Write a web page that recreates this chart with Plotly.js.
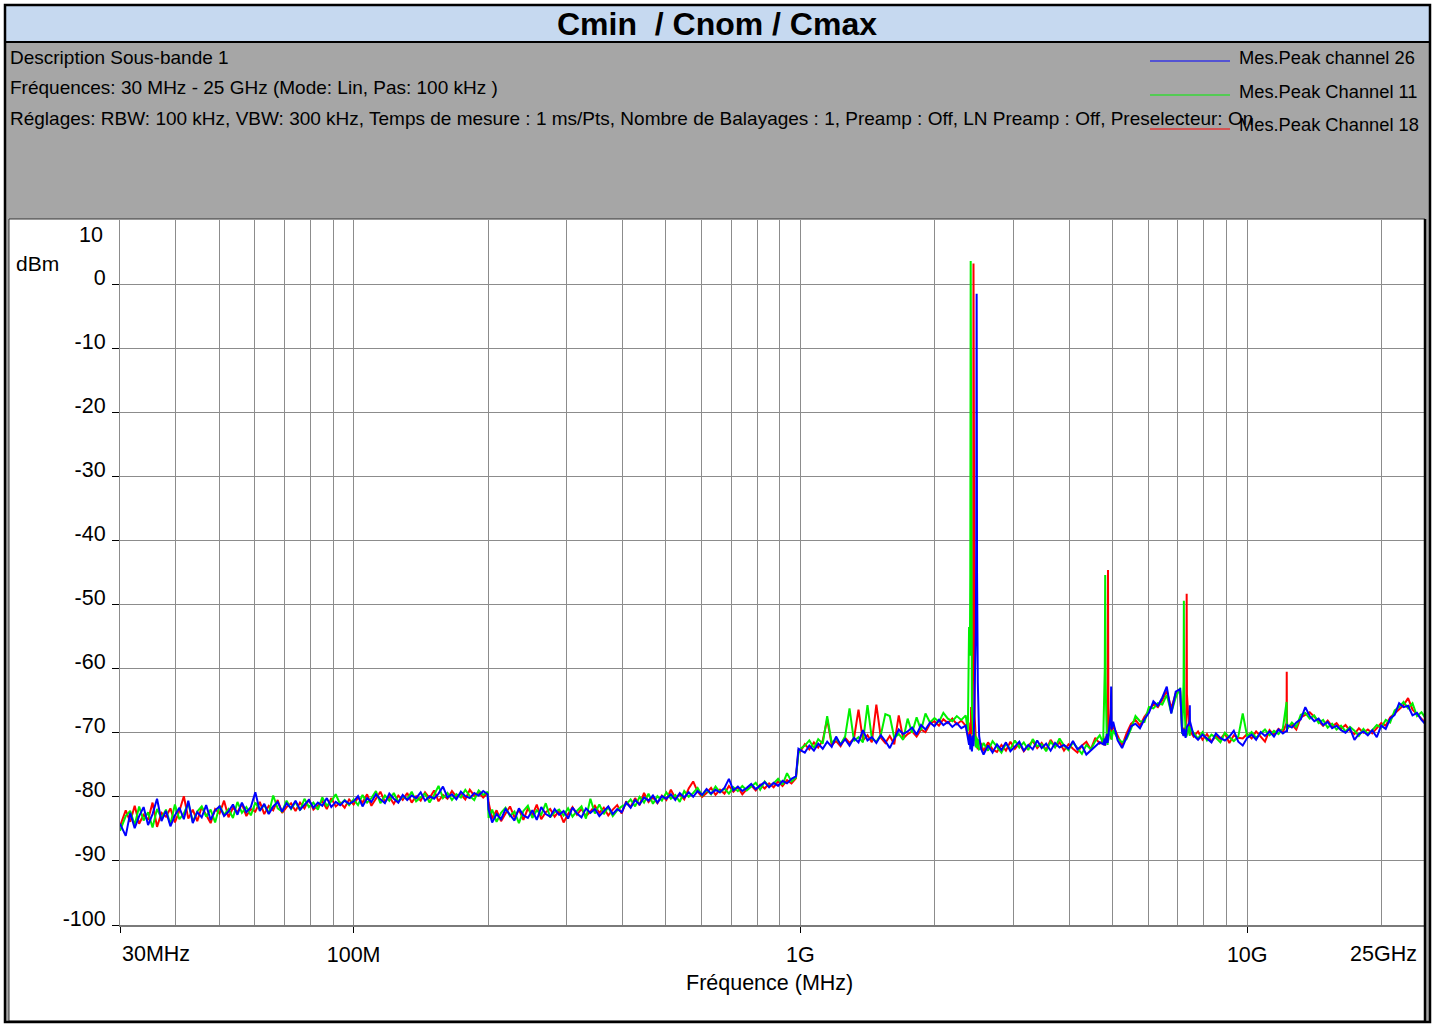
<!DOCTYPE html>
<html><head><meta charset="utf-8">
<script src="https://cdn.plot.ly/plotly-3.0.1.min.js"></script>
<style>html,body{margin:0;padding:0;background:#fff;}#chart{width:1442px;height:1025px;}</style>
</head><body><div id="chart"></div><script>
// ---- data (frequency in MHz, level in dBm) ----
const freqA=[30,30.9,31.62,32.36,33.11,33.88,34.67,35.48,36.31,37.15,38.02,38.9,39.81,40.74,41.69,42.66,43.65,44.67,45.71,46.77,47.86,48.98,50.12,51.29,52.48,53.7,54.95,56.23,57.54,58.88,60.26,61.66,63.1,64.57,66.07,67.61,69.18,70.79,72.44,74.13,75.86,77.62,79.43,81.28,83.18,85.11,87.1,89.13,91.2,93.33,95.5,97.72];
const redA=[-84.6,-82.1,-83.9,-81.4,-84.2,-82.8,-83.6,-80.9,-84.7,-82.5,-83.1,-81.8,-84.0,-82.2,-79.9,-83.4,-82.0,-83.8,-81.6,-82.9,-84.1,-81.9,-82.6,-80.6,-83.2,-81.7,-82.4,-81.1,-83.0,-81.9,-82.3,-80.8,-82.7,-81.4,-82.1,-80.5,-82.5,-81.6,-81.0,-82.2,-80.9,-81.8,-80.4,-82.0,-81.3,-80.7,-81.9,-80.2,-81.5,-80.9,-81.7,-80.4];
const greenA=[-85.3,-83.0,-82.2,-84.4,-81.5,-83.7,-82.4,-84.8,-81.9,-83.3,-82.0,-84.3,-81.2,-83.5,-82.6,-81.0,-83.9,-82.3,-81.5,-83.1,-82.0,-84.0,-81.4,-82.8,-81.9,-83.3,-80.8,-82.5,-81.6,-82.9,-80.9,-82.0,-81.3,-82.6,-79.8,-81.8,-82.3,-80.6,-81.9,-80.8,-82.1,-80.3,-81.6,-80.9,-82.0,-80.1,-81.4,-80.7,-79.6,-81.2,-80.5,-81.3];
const blueA=[-84.2,-86.1,-82.5,-84.9,-83.0,-81.6,-84.4,-82.7,-80.3,-83.8,-82.2,-84.6,-82.9,-81.7,-83.5,-80.6,-84.1,-82.4,-83.2,-81.3,-83.6,-82.1,-81.5,-83.0,-82.3,-81.2,-82.8,-80.9,-82.4,-81.6,-79.3,-82.2,-81.1,-82.7,-81.5,-80.8,-82.3,-81.0,-81.8,-80.6,-82.0,-81.2,-80.5,-81.7,-80.9,-81.4,-80.2,-81.6,-80.8,-81.3,-80.6,-81.1];

const freqB=[100,102.3,104.7,107.2,109.6,112.2,114.8,117.5,120.2,123,125.9,128.8,131.8,134.9,138,141.3,144.5,147.9,151.4,154.9,158.5,162.2,166,169.8,173.8,177.8,182,186.2,190.5,195,199.5];
const redB=[-81.2,-80.1,-80.9,-79.6,-81.4,-80.3,-79.2,-80.8,-80.0,-81.1,-79.8,-80.5,-79.4,-80.9,-79.9,-80.6,-79.3,-80.2,-79.0,-80.7,-79.7,-80.3,-79.1,-80.0,-79.6,-80.4,-78.9,-79.8,-79.3,-80.1,-79.4];
const greenB=[-80.4,-81.3,-79.7,-80.9,-80.2,-79.1,-81.0,-79.8,-80.6,-79.4,-80.8,-79.9,-80.4,-79.2,-80.7,-80.0,-79.5,-80.9,-79.7,-78.3,-80.2,-79.4,-80.5,-79.6,-80.1,-78.9,-79.9,-80.5,-79.0,-79.7,-79.2];
const blueB=[-80.7,-79.9,-81.5,-80.2,-80.8,-79.6,-80.4,-81.0,-79.5,-80.3,-80.9,-79.7,-80.5,-79.8,-80.2,-79.3,-80.6,-79.9,-80.3,-79.5,-78.4,-80.1,-79.6,-80.4,-79.2,-79.9,-80.2,-79.4,-79.8,-79.1,-79.6];

const freqC=[200.5,204.2,208.9,213.8,218.8,223.9,229.1,234.4,239.9,245.5,251.2,257,263,269.2,275.4,281.8,288.4,295.1,302,309,316.2,323.6,331.1,338.8,346.7,354.8,363.1,371.5,380.2,389,398.1,407.4,416.9,426.6,436.5,446.7,457.1,467.7,478.6,489.8,501.2,512.9,524.8,537,549.5,562.3,575.4,588.8,602.6,616.6,631,645.7,660.7,676.1,691.8,707.9,724.4,741.3,758.6,776.2,794.3,812.8,831.8,851.1,871,891.3,912,933.3,955,977.2,990];
const redC=[-80.9,-83.4,-82.1,-83.8,-82.6,-81.5,-83.2,-82.0,-83.6,-81.8,
-82.9,-81.2,-83.5,-82.4,-81.9,-83.1,-82.2,-84.0,-82.7,-81.6,
-82.8,-81.9,-83.0,-82.3,-81.4,-82.5,-81.7,-82.9,-82.0,-81.3,
-82.6,-80.7,-81.6,-80.2,-81.3,-79.4,-80.8,-80.1,-81.0,-79.8,
-80.5,-78.9,-80.2,-79.6,-80.4,-78.7,-77.6,-79.2,-80.0,-79.4,
-78.6,-79.7,-78.9,-79.5,-78.3,-79.2,-78.5,-79.6,-78.8,-78.2,
-79.0,-78.1,-78.7,-77.9,-78.5,-77.6,-78.3,-77.4,-77.9,-77.1,
-72.8];
const greenC=[-83.3,-82.0,-83.9,-82.5,-81.7,-83.0,-82.3,-84.1,-82.2,-81.4,
-83.3,-82.1,-82.8,-81.0,-83.2,-82.4,-82.0,-82.9,-81.8,-83.1,
-82.2,-81.5,-83.4,-80.3,-82.6,-81.2,-82.7,-81.6,-83.0,-82.1,
-81.5,-81.2,-80.4,-81.5,-80.0,-80.9,-79.5,-81.1,-79.9,-80.6,
-79.3,-80.3,-79.7,-80.8,-79.1,-80.0,-79.4,-78.6,-79.8,-78.9,
-79.6,-78.4,-79.3,-78.7,-79.5,-78.5,-79.1,-78.3,-79.0,-78.4,
-77.8,-78.9,-77.6,-78.4,-77.9,-77.2,-78.1,-76.3,-77.6,-77.0,
-73.2];
const blueC=[-82.0,-84.0,-82.7,-83.5,-81.9,-82.8,-83.7,-81.8,-82.9,-83.3,
-82.1,-83.6,-81.6,-82.7,-83.1,-81.9,-82.8,-82.2,-83.4,-81.7,
-82.6,-83.2,-81.8,-82.5,-81.9,-83.0,-82.2,-81.5,-82.7,-81.9,
-82.4,-80.9,-81.7,-80.5,-81.2,-80.1,-80.6,-79.8,-80.9,-79.9,
-80.3,-79.6,-80.5,-79.4,-80.1,-79.3,-80.0,-79.1,-79.7,-78.8,
-79.5,-78.9,-79.3,-78.6,-77.2,-79.0,-78.4,-79.1,-78.6,-78.0,
-78.8,-78.2,-77.7,-78.5,-77.8,-78.3,-77.5,-77.9,-77.2,-76.8,
-72.5];

const freqD=[1000,1023,1047,1072,1096,1122,1148,1175,1202,1230,1259,1288,1318,1349,1380,1413,1445,1479,1514,1549,1585,1622,1660,1698,1738,1778,1820,1862,1905,1950,1995,2042,2089,2138,2188,2239,2291,2344];
const redD=[-72.9,-71.8,-72.6,-71.5,-72.3,-71.2,-67.9,-71.9,-71.3,-72.1,-70.8,-71.6,-70.9,-66.4,-71.2,-70.4,-71.5,-65.6,-70.8,-71.6,-70.5,-71.8,-67.3,-70.9,-70.2,-69.8,-70.6,-69.5,-69.9,-68.6,-68.2,-68.9,-67.9,-68.5,-67.8,-68.7,-68.1,-68.9];
const greenD=[-72.5,-72.0,-71.2,-72.4,-71.0,-71.7,-67.4,-71.6,-70.9,-71.8,-70.6,-66.2,-71.3,-70.7,-71.5,-65.7,-70.9,-71.4,-70.3,-67.1,-67.4,-70.8,-70.2,-71.1,-67.8,-70.0,-67.6,-69.6,-67.0,-68.4,-67.7,-68.3,-66.9,-67.8,-68.2,-67.4,-68.0,-67.3];
const blueD=[-72.7,-73.1,-72.0,-72.8,-71.7,-72.5,-71.4,-72.2,-70.6,-71.9,-71.0,-72.0,-70.8,-71.5,-69.6,-71.2,-70.7,-71.6,-70.4,-71.3,-72.4,-71.0,-69.5,-70.2,-69.8,-69.2,-70.3,-68.8,-69.5,-68.4,-69.0,-68.0,-68.8,-68.3,-69.1,-68.5,-69.3,-68.9];

const freqE=[2370,2385,2395,2400,2405,2410,2420,2435,2440,2445,2455,2470,2475,2480,2485,2495,2512];
const redE=[-70.4,-71.2,-69.6,-68.4,-70.9,-66.0,-70.2,-55.2,3.2,-52.0,-67.5,-71.1,-72.0,-70.8,-71.9,-72.6,-71.4];
const greenE=[-69.8,-53.5,-58.0,-45.0,3.6,-50.0,-66.5,-69.8,-71.2,-68.9,-70.5,-72.3,-70.6,-71.8,-72.4,-71.0,-72.6];
const blueE=[-70.8,-71.9,-70.2,-72.6,-70.5,-71.7,-72.9,-70.4,-72.1,-69.9,-62.8,-53.7,-40.0,-1.5,-45.0,-62.2,-70.5];

const freqF=[2540,2570,2630,2692,2754,2818,2884,2951,3020,3090,3162,3236,3311,3388,3467,3548,3631,3715,3802,3890,3981,4074,4169,4266,4365,4467,4571,4677];
const redF=[-71.8,-72.9,-71.5,-72.6,-73.0,-71.9,-72.8,-71.4,-72.5,-71.7,-72.9,-72.0,-71.3,-72.4,-71.6,-72.7,-71.1,-72.2,-71.5,-72.8,-71.8,-72.5,-73.1,-72.0,-71.4,-72.6,-70.8,-71.7];
const greenF=[-72.4,-71.6,-72.8,-71.3,-72.2,-73.1,-71.7,-72.6,-71.2,-72.3,-71.5,-72.7,-71.0,-72.1,-71.8,-72.9,-71.4,-72.3,-70.9,-72.0,-72.7,-71.5,-72.4,-73.3,-71.9,-72.6,-71.3,-70.4];
const blueF=[-72.6,-73.4,-72.0,-73.1,-71.8,-72.7,-71.5,-72.9,-72.2,-71.4,-72.8,-71.9,-72.6,-71.2,-72.4,-71.7,-72.8,-71.6,-72.3,-71.9,-72.5,-71.3,-72.6,-72.0,-73.4,-72.8,-72.1,-71.5];

const freqG=[4760,4800,4810,4820,4850,4870,4880,4890,4920,4950,4960,4970];
const redG=[-71.2,-72.0,-71.0,-70.6,-71.5,-68.0,-44.6,-66.0,-70.3,-69.0,-71.0,-70.2];
const greenG=[-71.6,-60.0,-45.4,-62.0,-70.8,-71.9,-70.6,-71.2,-69.4,-70.5,-69.8,-71.1];
const blueG=[-71.8,-70.9,-72.0,-71.4,-70.2,-71.6,-70.9,-70.5,-68.5,-67.0,-62.8,-69.5];

const freqH=[5012,5129,5248,5370,5495,5623,5754,5888,6026,6166,6310,6457,6607,6761,6918,7079];
const redH=[-68.9,-70.4,-72.0,-70.1,-68.6,-68.0,-68.9,-67.5,-66.6,-65.5,-66.0,-64.9,-63.5,-66.2,-63.9,-63.4];
const greenH=[-69.6,-70.9,-71.5,-71.0,-69.4,-67.4,-68.2,-68.3,-66.0,-66.2,-65.4,-65.6,-64.1,-66.9,-64.5,-63.0];
const blueH=[-68.3,-71.2,-72.4,-70.6,-69.0,-68.6,-69.3,-67.9,-66.9,-65.1,-65.8,-64.5,-62.8,-67.0,-63.6,-63.2];

const freqI=[7150,7205,7215,7225,7280,7310,7320,7330,7413,7435,7440,7445];
const redI=[-69.6,-70.4,-69.8,-69.2,-70.1,-66.0,-48.3,-64.0,-69.5,-70.3,-68.8,-69.7];
const greenI=[-70.2,-62.0,-49.4,-65.0,-69.4,-70.6,-69.9,-70.3,-69.0,-69.8,-70.5,-69.3];
const blueI=[-69.9,-70.5,-70.0,-69.4,-70.8,-69.6,-70.2,-69.1,-68.5,-68.0,-65.7,-68.2];

const freqJ=[7586,7762,7943,8128,8318,8511,8710,8913,9120,9333,9550,9772];
const redJ=[-70.6,-69.8,-71.1,-70.2,-71.4,-70.5,-71.0,-70.1,-71.6,-70.4,-70.8,-70.9];
const greenJ=[-70.1,-70.9,-69.9,-71.2,-70.3,-70.8,-71.5,-70.0,-70.7,-71.3,-70.6,-67.0];
const blueJ=[-70.4,-71.1,-70.3,-70.9,-71.5,-70.1,-70.8,-71.2,-70.6,-69.7,-71.4,-72.0];

const freqK=[10000,10230,10470,10720,10960,11220,11480,11750,12020,12250,12260,12270,12300,12590,12880,13180,13490,13800,14130,14450,14790,15140,15490,15850,16220,16600,16980,17380,17780,18200,18620,19050,19500,19950,20420,20890,21380,21880,22390,22910,23440,23990,24550,25000];
const redK=[-70.2,-70.9,-69.8,-70.6,-71.4,-69.6,-70.3,-69.4,-69.9,-68.5,-60.5,-68.0,-69.2,-68.7,-69.5,-67.6,-67.2,-66.8,-67.5,-68.2,-68.9,-68.1,-69.0,-68.5,-69.4,-68.8,-69.7,-70.2,-69.3,-70.0,-69.5,-70.1,-69.2,-68.5,-68.9,-67.6,-67.0,-66.3,-65.7,-64.6,-66.4,-67.1,-67.9,-68.4];
const greenK=[-70.6,-69.9,-70.8,-70.1,-69.5,-70.4,-69.7,-70.2,-69.3,-65.2,-69.6,-68.9,-69.4,-68.4,-69.1,-67.2,-66.9,-67.8,-67.3,-68.5,-68.0,-69.2,-68.6,-69.5,-68.9,-69.8,-69.1,-69.7,-70.5,-69.4,-70.2,-69.6,-68.8,-69.2,-68.0,-68.4,-66.5,-66.0,-65.2,-66.2,-65.4,-67.4,-66.8,-67.6];
const blueK=[-70.8,-70.3,-71.1,-69.9,-70.5,-69.8,-70.6,-69.5,-70.1,-69.7,-69.3,-69.9,-68.8,-69.2,-68.4,-67.9,-66.0,-67.4,-68.2,-67.8,-68.8,-68.3,-69.3,-68.9,-69.6,-70.0,-69.3,-71.1,-70.2,-69.8,-70.4,-69.6,-70.7,-68.9,-69.4,-67.8,-67.2,-65.4,-66.0,-65.8,-67.3,-66.9,-68.0,-68.6];

// ---- tick / label texts ----
const yTicks=[0,-10,-20,-30,-40,-50,-60,-70,-80,-90,-100];
const xMajor=[30,100,1000,10000,25000];
const xMajorText=['','100M','1G','10G',''];
const xMinor=[40,50,60,70,80,90,200,300,400,500,600,700,800,900,2000,3000,4000,5000,6000,7000,8000,9000,20000];
const seriesNames=['Mes.Peak channel 26','Mes.Peak Channel 11','Mes.Peak Channel 18'];
const headerLines=['Description Sous-bande 1','Fréquences: 30 MHz - 25 GHz (Mode: Lin, Pas: 100 kHz )','Réglages: RBW: 100 kHz, VBW: 300 kHz, Temps de mesure : 1 ms/Pts, Nombre de Balayages : 1, Preamp : Off, LN Preamp : Off, Preselecteur: On'];

const cat=(...a)=>[].concat(...a);
const freq=cat(freqA,freqB,freqC,freqD,freqE,freqF,freqG,freqH,freqI,freqJ,freqK);
const red=cat(redA,redB,redC,redD,redE,redF,redG,redH,redI,redJ,redK);
const green=cat(greenA,greenB,greenC,greenD,greenE,greenF,greenG,greenH,greenI,greenJ,greenK);
const blue=cat(blueA,blueB,blueC,blueD,blueE,blueF,blueG,blueH,blueI,blueJ,blueK);

// ---- geometry helpers (pixel -> paper) ----
const L=120,R=1425,T=220,B=925;
const px=x=>(x-L)/(R-L), py=y=>(B-y)/(B-T);
const FONT='"Liberation Sans", Arial, sans-serif';
const GRID='#8c8c8c';
const COL={blue:'#0000ff',green:'#00f000',red:'#ff0000'};

const traces=[
 {x:freq,y:red,type:'scatter',mode:'lines',line:{color:COL.red,width:2},name:seriesNames[2]},
 {x:freq,y:green,type:'scatter',mode:'lines',line:{color:COL.green,width:2},name:seriesNames[1]},
 {x:freq,y:blue,type:'scatter',mode:'lines',line:{color:COL.blue,width:2},name:seriesNames[0]}
];

const shapes=[
 {type:'rect',xref:'paper',yref:'paper',x0:px(5),x1:px(1430),y0:py(1022),y1:py(42),fillcolor:'#a6a6a6',line:{width:0},layer:'below'},
 {type:'rect',xref:'paper',yref:'paper',x0:px(5),x1:px(1430),y0:py(42),y1:py(5),fillcolor:'#c6d9f0',line:{width:0},layer:'below'},
 {type:'rect',xref:'paper',yref:'paper',x0:px(9),x1:px(1425),y0:py(1021),y1:py(219),fillcolor:'#ffffff',line:{color:'#333333',width:1},layer:'below'},
 {type:'line',xref:'paper',yref:'paper',x0:px(5),x1:px(1430),y0:py(42),y1:py(42),line:{color:'#000',width:2},layer:'above'},
 {type:'line',xref:'paper',yref:'paper',x0:px(1425),x1:px(1425),y0:py(219),y1:py(1021),line:{color:'#000',width:2.5},layer:'above'},
 {type:'rect',xref:'paper',yref:'paper',x0:px(5),x1:px(1430),y0:py(1022),y1:py(5),line:{color:'#000',width:2.5},fillcolor:'rgba(0,0,0,0)',layer:'above'}
];
const legY=[61,95,129], legC=[COL.blue,COL.green,COL.red];
legY.forEach((y,i)=>shapes.push({type:'line',xref:'paper',yref:'paper',x0:px(1150),x1:px(1230),y0:py(y),y1:py(y),line:{color:legC[i],width:1.2},layer:'above'}));

const ann=[];
const hdrY=[58,88,118];
headerLines.forEach((t,i)=>ann.push({text:t,xref:'paper',yref:'paper',x:px(8),y:py(hdrY[i]),xanchor:'left',yanchor:'middle',showarrow:false,font:{family:FONT,size:19,color:'#000'}}));
const legTY=[57,91,125];
seriesNames.forEach((t,i)=>ann.push({text:t,xref:'paper',yref:'paper',x:px(1237),y:py(legTY[i]),xanchor:'left',yanchor:'middle',showarrow:false,font:{family:FONT,size:18.3,color:'#000'}}));
ann.push({text:'dBm',xref:'paper',yref:'paper',x:px(37),y:py(263),xanchor:'center',yanchor:'middle',showarrow:false,font:{family:FONT,size:21,color:'#000'}});
ann.push({text:'10',xref:'paper',yref:'paper',x:px(105),y:py(235),xanchor:'right',yanchor:'middle',showarrow:false,font:{family:FONT,size:21.5,color:'#000'}});
ann.push({text:'30MHz',xref:'paper',yref:'paper',x:px(120),y:py(954),xanchor:'left',yanchor:'middle',showarrow:false,font:{family:FONT,size:21.5,color:'#000'}});
ann.push({text:'25GHz',xref:'paper',yref:'paper',x:px(1419),y:py(954),xanchor:'right',yanchor:'middle',showarrow:false,font:{family:FONT,size:21.5,color:'#000'}});
ann.push({text:'Fréquence (MHz)',xref:'paper',yref:'paper',x:px(769),y:py(983),xanchor:'center',yanchor:'middle',showarrow:false,font:{family:FONT,size:21.5,color:'#000'}});

const layout={
 width:1442,height:1025,
 margin:{l:L,r:1442-R,t:T,b:1025-B,pad:0},
 paper_bgcolor:'#ffffff',plot_bgcolor:'#ffffff',
 showlegend:false,hovermode:false,
 title:{text:'Cmin\u00a0 / Cnom / Cmax',font:{family:FONT,size:32,color:'#000',weight:'bold'},xref:'container',yref:'container',x:717/1442,y:1-24/1025,xanchor:'center',yanchor:'middle'},
 xaxis:{type:'log',range:[Math.log10(30),Math.log10(25000)],tickmode:'array',tickvals:xMajor,ticktext:xMajorText,
   ticks:'outside',ticklen:6,tickcolor:'#000',tickwidth:1,showgrid:true,gridcolor:GRID,gridwidth:1,
   minor:{tickmode:'array',tickvals:xMinor,showgrid:true,gridcolor:GRID,gridwidth:1,ticks:''},
   showline:true,linecolor:'#7a7a7a',linewidth:2,zeroline:false,ticklabelstandoff:3,
   tickfont:{family:FONT,size:21.5,color:'#000'},fixedrange:true},
 yaxis:{range:[-100,10],tickmode:'array',tickvals:yTicks,ticktext:yTicks.map(String),
   ticks:'outside',ticklen:7,tickcolor:'#000',tickwidth:1,showgrid:true,gridcolor:GRID,gridwidth:1,
   showline:true,linecolor:GRID,linewidth:1,zeroline:false,ticklabelshift:-7,ticklabelstandoff:2,
   tickfont:{family:FONT,size:21.5,color:'#000'},fixedrange:true},
 shapes:shapes,annotations:ann
};
Plotly.newPlot('chart',traces,layout,{displayModeBar:false,staticPlot:true});
</script></body></html>
